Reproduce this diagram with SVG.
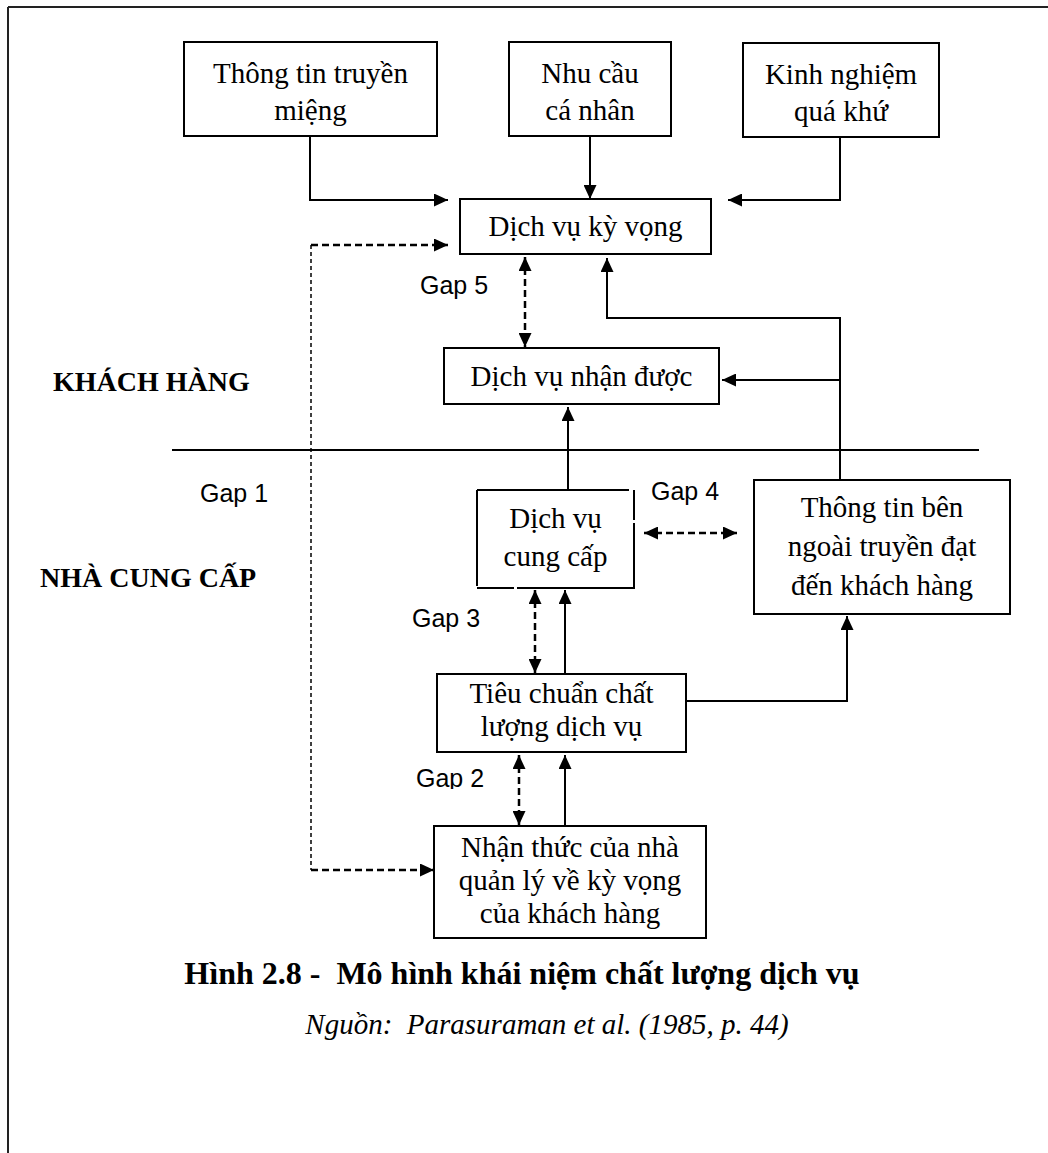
<svg xmlns="http://www.w3.org/2000/svg" width="1048" height="1153" viewBox="0 0 1048 1153">
  <style>
    .box { fill: #fff; stroke: #000; stroke-width: 2; }
    .t { font-family: "Liberation Serif", "Times New Roman", serif; font-size: 29px; fill: #000; text-anchor: middle; }
    .side { font-family: "Liberation Serif", "Times New Roman", serif; font-size: 28px; font-weight: bold; fill: #000; }
    .gap { font-family: "Liberation Sans", Arial, sans-serif; font-size: 25px; fill: #000; }
    .cap { font-family: "Liberation Serif", "Times New Roman", serif; font-size: 32px; font-weight: bold; fill: #000; text-anchor: middle; }
    .src { font-family: "Liberation Serif", "Times New Roman", serif; font-size: 29px; font-style: italic; fill: #000; text-anchor: middle; }
    .solid { fill: none; stroke: #000; stroke-width: 2; }
    .dash { fill: none; stroke: #000; stroke-width: 2.5; stroke-dasharray: 7 4; }
    .thin { fill: none; stroke: #000; stroke-width: 1.5; stroke-dasharray: 4 3; }
  </style>
  <defs>
    <marker id="head" markerUnits="userSpaceOnUse" markerWidth="15" markerHeight="13" refX="14" refY="6.5" orient="auto-start-reverse">
      <path d="M0,0 L14,6.5 L0,13 Z" fill="#000"/>
    </marker>
    <clipPath id="gap2clip">
      <rect x="400" y="760" width="100" height="29"/>
    </clipPath>
  </defs>

  <!-- page frame: top and left rules -->
  <g id="frame">
    <line x1="8" y1="7" x2="1048" y2="7" stroke="#222" stroke-width="2"/>
    <line x1="8" y1="7" x2="8" y2="1153" stroke="#222" stroke-width="2"/>
  </g>

  <!-- customer / provider divider -->
  <line id="divider" x1="172" y1="450" x2="979" y2="450" stroke="#000" stroke-width="2"/>

  <g id="labels">
    <text class="side" x="53" y="391">KHÁCH HÀNG</text>
    <text class="side" x="40" y="587">NHÀ CUNG CẤP</text>
    <text class="gap" x="200" y="502">Gap 1</text>
    <text class="gap" x="420" y="294">Gap 5</text>
    <text class="gap" x="651" y="500">Gap 4</text>
    <text class="gap" x="412" y="627">Gap 3</text>
    <text class="gap" x="416" y="787" clip-path="url(#gap2clip)">Gap 2</text>
  </g>

  <g id="connectors">
    <!-- inputs to expected service -->
    <polyline class="solid" points="310,136 310,200 448,200" marker-end="url(#head)"/>
    <line class="solid" x1="590" y1="136" x2="590" y2="199" marker-end="url(#head)"/>
    <polyline class="solid" points="840,137 840,200 728,200" marker-end="url(#head)"/>
    <!-- gap 5 -->
    <line class="dash" x1="525" y1="257" x2="525" y2="347" marker-start="url(#head)" marker-end="url(#head)"/>
    <!-- external communications feed back to customer -->
    <polyline class="solid" points="840,480 840,318 607,318 607,258" marker-end="url(#head)"/>
    <polyline class="solid" points="840,380 722,380" marker-end="url(#head)"/>
    <!-- delivered to perceived -->
    <line class="solid" x1="568" y1="493" x2="568" y2="407" marker-end="url(#head)"/>
    <!-- gap 4 -->
    <line class="dash" x1="644" y1="533" x2="737" y2="533" marker-start="url(#head)" marker-end="url(#head)"/>
    <!-- gap 3 -->
    <line class="dash" x1="535" y1="590" x2="535" y2="673" marker-start="url(#head)" marker-end="url(#head)"/>
    <line class="solid" x1="565" y1="674" x2="565" y2="590" marker-end="url(#head)"/>
    <!-- standards to external communications -->
    <polyline class="solid" points="686,701 847,701 847,616" marker-end="url(#head)"/>
    <!-- gap 2 -->
    <line class="dash" x1="519" y1="755" x2="519" y2="825" marker-start="url(#head)" marker-end="url(#head)"/>
    <line class="solid" x1="565" y1="826" x2="565" y2="755" marker-end="url(#head)"/>
    <!-- gap 1 loop -->
    <line class="thin" x1="311" y1="245" x2="311" y2="870"/>
    <line class="dash" x1="311" y1="245" x2="448" y2="245" marker-end="url(#head)"/>
    <line class="dash" x1="311" y1="870" x2="434" y2="870" marker-end="url(#head)"/>
  </g>

  <g id="word-of-mouth">
    <rect class="box" x="184" y="42" width="253" height="94"/>
    <text class="t" x="310.5" y="83">Thông tin truyền</text>
    <text class="t" x="310.5" y="120">miệng</text>
  </g>
  <g id="personal-needs">
    <rect class="box" x="509" y="42" width="162" height="94"/>
    <text class="t" x="590" y="83">Nhu cầu</text>
    <text class="t" x="590" y="120">cá nhân</text>
  </g>
  <g id="past-experience">
    <rect class="box" x="743" y="43" width="196" height="94"/>
    <text class="t" x="841" y="84">Kinh nghiệm</text>
    <text class="t" x="841" y="121">quá khứ</text>
  </g>
  <g id="expected-service">
    <rect class="box" x="460" y="199" width="251" height="55"/>
    <text class="t" x="585.5" y="236">Dịch vụ kỳ vọng</text>
  </g>
  <g id="perceived-service">
    <rect class="box" x="444" y="348" width="275" height="56"/>
    <text class="t" x="581.5" y="386">Dịch vụ nhận được</text>
  </g>
  <g id="service-delivery">
    <rect x="477" y="490" width="157" height="98" fill="#fff"/>
    <path class="solid" d="M477,490 H629 M634,490 V520 M634,523 V588 H517 M514,588 H477 M477,586 V490"/>
    <text class="t" x="555.5" y="528">Dịch vụ</text>
    <text class="t" x="555.5" y="566">cung cấp</text>
  </g>
  <g id="external-communications">
    <rect class="box" x="754" y="480" width="256" height="134"/>
    <text class="t" x="882" y="517">Thông tin bên</text>
    <text class="t" x="882" y="556">ngoài truyền đạt</text>
    <text class="t" x="882" y="595">đến khách hàng</text>
  </g>
  <g id="quality-specs">
    <rect class="box" x="437" y="674" width="249" height="78"/>
    <text class="t" x="561.5" y="703">Tiêu chuẩn chất</text>
    <text class="t" x="561.5" y="736">lượng dịch vụ</text>
  </g>
  <g id="management-perceptions">
    <rect class="box" x="434" y="826" width="272" height="112"/>
    <text class="t" x="570" y="857">Nhận thức của nhà</text>
    <text class="t" x="570" y="890">quản lý về kỳ vọng</text>
    <text class="t" x="570" y="923">của khách hàng</text>
  </g>

  <g id="caption">
    <text class="cap" x="522" y="984" xml:space="preserve">Hình 2.8 -  Mô hình khái niệm chất lượng dịch vụ</text>
    <text class="src" x="547" y="1034" xml:space="preserve">Nguồn:  Parasuraman et al. (1985, p. 44)</text>
  </g>
</svg>
